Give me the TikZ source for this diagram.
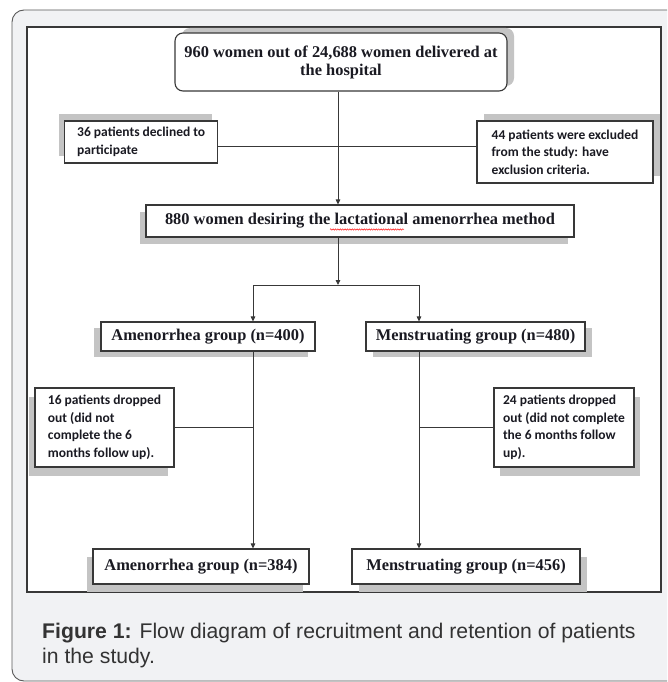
\documentclass[tikz,border=0pt]{standalone}
\usepackage{fontspec}
\setmainfont{Liberation Serif}
\newfontfamily\calfont{Carlito Bold}
\newfontfamily\capfont{Liberation Sans}
\usetikzlibrary{arrows.meta,shadows,decorations.pathmorphing}
\definecolor{pagebg}{HTML}{F1F2F4}
\definecolor{framecol}{HTML}{5A5A5A}
\definecolor{inkcol}{HTML}{383838}
\definecolor{shadowcol}{HTML}{C4C4C4}
\definecolor{captioncol}{HTML}{333333}
\definecolor{textcol}{HTML}{1A1A22}
\begin{document}
\begin{tikzpicture}[x=1pt,y=-1pt,
  box/.style={draw=inkcol, line width=1.1pt, fill=white, inner sep=0pt, text=textcol},
  mainbox/.style={box, font=\bfseries\fontsize{16.4}{18}\selectfont, align=center},
  smallbox/.style={box, font=\calfont\fontsize{13.5}{17.6}\selectfont, align=left},
  sh/.style 2 args={drop shadow={shadow xshift=#1pt, shadow yshift=#2pt, fill=shadowcol, opacity=1}},
  link/.style={draw=inkcol, line width=0.9pt},
  arr/.style={link, -{Triangle[length=5pt,width=4.5pt]}},
]
\useasboundingbox (0,0) rectangle (667,682);
\clip (0,0) rectangle (667,682);
\fill[white] (0,0) rectangle (667,682);
\draw[framecol, line width=0.9pt, fill=pagebg, rounded corners=12pt] (12,10) rectangle (690,681);
\draw[inkcol, line width=1.2pt, fill=white] (27,27) rectangle (661,592);

% boxes
\node[mainbox, rounded corners=8pt, sh={7}{5}, minimum width=332pt, minimum height=58pt] (top) at (341,62)
  {960 women out of 24,688 women delivered at\\the hospital};
\node[smallbox, sh={-6}{7}, minimum width=153pt, minimum height=42pt] (d36) at (141.2,142)
  {36 patients declined to\\participate};
\node[smallbox, sh={7}{7}, minimum width=176pt, minimum height=62pt] (d44) at (565,152)
  {44 patients were excluded\\from the study: have\\exclusion criteria.};
\node[mainbox, sh={-6}{-7}, minimum width=428pt, minimum height=32pt] (b880) at (360,221)
  {880 women desiring the lactational amenorrhea method};
\node[mainbox, sh={-7}{-6}, minimum width=214pt, minimum height=29pt] (a400) at (208,336.5)
  {Amenorrhea group (n=400)};
\node[mainbox, sh={7}{-6}, minimum width=219pt, minimum height=29pt] (m480) at (475.5,336.5)
  {Menstruating group (n=480)};
\node[smallbox, sh={-6}{-9}, minimum width=139pt, minimum height=79pt] (d16) at (104.5,427.5)
  {16 patients dropped\\out (did not\\complete the 6\\months follow up).};
\node[smallbox, sh={6}{-9}, minimum width=140pt, minimum height=79pt] (d24) at (564,427.5)
  {24 patients dropped\\out (did not complete\\the 6 months follow\\up).};
\node[mainbox, sh={-6}{-8}, minimum width=216pt, minimum height=35pt] (a384) at (201,566.5)
  {Amenorrhea group (n=384)};
\node[mainbox, sh={7}{-8}, minimum width=228pt, minimum height=35pt] (m456) at (466,566.5)
  {Menstruating group (n=456)};

% spell-check squiggle under "lactational"
\draw[red, line width=0.45pt, decorate, decoration={snake, amplitude=0.7pt, segment length=2.4pt}]
  (330,229.5) -- (404,229.5);

% connector points
\coordinate (spine) at (338,146.7);
\coordinate (split) at (338,285);
\coordinate (lx) at (253,285);
\coordinate (rx) at (419,285);

% connectors
\draw[arr] (top.south -| spine) -- (spine |- b880.north);
\draw[link] (d36.east |- spine) -- (d44.west |- spine);
\draw[arr] (b880.south -| split) -- (split);
\draw[link] (lx) -- (rx);
\draw[arr] (lx) -- (lx |- a400.north);
\draw[arr] (rx) -- (rx |- m480.north);
\draw[arr] (lx |- a400.south) -- (lx |- a384.north);
\draw[arr] (rx |- m480.south) -- (rx |- m456.north);
\draw[link] (d16.east) -- (lx |- d16.east);
\draw[link] (d24.west) -- (rx |- d24.west);

% caption
\node[anchor=base west, inner sep=0pt, align=left, text=captioncol,
      font=\capfont\fontsize{21.2}{25}\selectfont] (cap) at (42,663)
  {\textbf{Figure 1:} Flow diagram of recruitment and retention of patients\\in the study.};
\end{tikzpicture}
\end{document}
